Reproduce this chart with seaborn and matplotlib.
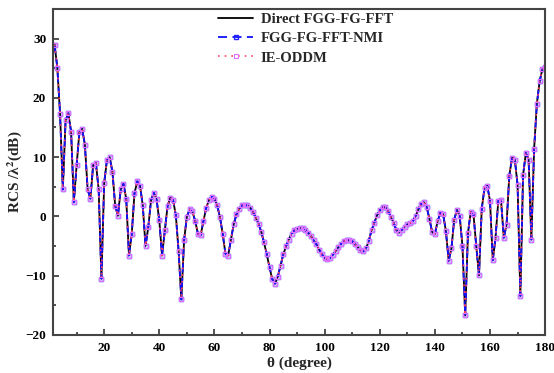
import matplotlib
matplotlib.use("Agg")
import matplotlib.pyplot as plt
import seaborn as sns
from matplotlib.ticker import MultipleLocator

# observation angle (degree), one sample per degree
theta = list(range(2, 181))

# RCS / lambda^2 in dB
rcs_direct = [29.0, 25.1, 17.3, 4.55, 16.2, 17.4, 14.3, 2.4, 8.6, 14.2,
              14.8, 12.1, 4.55, 3.0, 8.65, 9.0, 4.55, -10.5, 5.6, 9.5,
              10.0, 7.5, 1.8, 0.1, 4.55, 5.5, 3.0, -6.6, -3.0, 3.9,
              5.9, 5.2, 1.9, -5.0, -1.85, 2.7, 4.0, 2.9, -0.67, -6.6,
              -2.36, 1.74, 3.15, 2.75, 0.22, -5.8, -14.0, -4.0, -0.06, 1.18,
              0.84, -0.73, -2.9, -3.2, -0.84, 1.4, 2.75, 3.3, 3.0, 1.85,
              -0.1, -2.9, -6.3, -6.6, -3.9, -1.35, 0.34, 1.3, 1.85, 2.0,
              1.85, 1.46, 0.73, -0.22, -1.24, -2.6, -4.4, -6.4, -8.6, -10.6,
              -11.35, -10.15, -8.3, -6.4, -5.0, -3.9, -2.9, -2.36, -2.1, -1.97,
              -2.0, -2.3, -2.75, -3.3, -4.05, -4.7, -5.6, -6.4, -6.97, -7.25,
              -7.0, -6.46, -5.85, -5.2, -4.6, -4.2, -4.0, -4.0, -4.2, -4.7,
              -5.2, -5.7, -5.9, -5.4, -4.16, -2.36, -1.07, 0.17, 1.0, 1.57,
              1.57, 0.9, -0.06, -1.07, -2.3, -2.75, -2.3, -1.74, -1.35, -1.13,
              -0.79, 0.06, 1.18, 2.13, 2.4, 1.63, -0.39, -2.64, -3.0, -0.79,
              0.62, 0.34, -2.5, -7.5, -5.4, -0.55, 1.1, 0.06, -5.0, -16.7,
              -2.8, 0.73, 0.34, -5.0, -9.95, 1.3, 4.8, 5.2, 2.6, -7.4,
              -3.6, 2.6, 2.7, -3.6, -1.4, 6.9, 9.9, 9.6, 5.3, -13.4,
              7.0, 10.7, 9.6, -3.9, 11.4, 19.0, 22.8, 24.8, 25.2]
# the two fast methods agree with the direct solution to plotting accuracy
rcs_nmi = list(rcs_direct)
rcs_oddm = list(rcs_direct)

labels = ["Direct FGG-FG-FFT", "FGG-FG-FFT-NMI", "IE-ODDM"]

sns.set_theme(style="ticks")
plt.rcParams['font.family'] = ['Liberation Serif', 'DejaVu Serif']
plt.rcParams['font.weight'] = 'bold'
plt.rcParams['mathtext.fontset'] = 'stix'

fig = plt.figure(figsize=(5.54, 3.73), dpi=100)
ax = fig.add_axes([0.096, 0.102, 0.888, 0.874])

sns.lineplot(x=theta, y=rcs_direct, ax=ax, color='black', linewidth=1.3,
             label=labels[0])
sns.lineplot(x=theta, y=rcs_nmi, ax=ax, color='#1010ff', linewidth=1.3,
             linestyle=(0, (5, 3)), marker='s', markersize=3.5,
             markerfacecolor='none', markeredgecolor='#2020ff',
             markeredgewidth=1.0, label=labels[1])
sns.lineplot(x=theta, y=rcs_oddm, ax=ax, color='#ff4060', linewidth=1.2,
             linestyle=(0, (1, 3)), marker='s', markersize=3.5,
             markerfacecolor='none', markeredgecolor='#e070ff',
             markeredgewidth=0.8, label=labels[2])

ax.set_xlim(1.5, 180)
ax.set_ylim(-20, 35)
ax.xaxis.set_major_locator(MultipleLocator(20))
ax.xaxis.set_minor_locator(MultipleLocator(10))
ax.yaxis.set_major_locator(MultipleLocator(10))
ax.yaxis.set_minor_locator(MultipleLocator(5))
ax.set_xticks(range(20, 181, 20))
ax.tick_params(which='both', direction='in', labelsize=9.5, width=1.2,
               colors='#333333', labelcolor='black')
ax.tick_params(which='major', length=4, pad=5)
ax.tick_params(which='minor', length=2.5)
for lab in ax.get_xticklabels() + ax.get_yticklabels():
    lab.set_fontweight('bold')
for sp in ax.spines.values():
    sp.set_visible(True)
    sp.set_linewidth(1.5)
    sp.set_color('#444444')

ax.set_xlabel("θ (degree)", fontsize=11, fontweight='bold', labelpad=2)
ax.set_ylabel("RCS /λ$^\\mathbf{2}$(dB)", fontsize=11, fontweight='bold',
              labelpad=1)

leg = ax.legend(loc='upper left', bbox_to_anchor=(0.315, 1.02), frameon=False,
                handlelength=2.4, handletextpad=0.5, labelspacing=0.42,
                borderaxespad=0.3, prop={'weight': 'bold', 'size': 10.5})

fig.savefig("out.png", dpi=100)
